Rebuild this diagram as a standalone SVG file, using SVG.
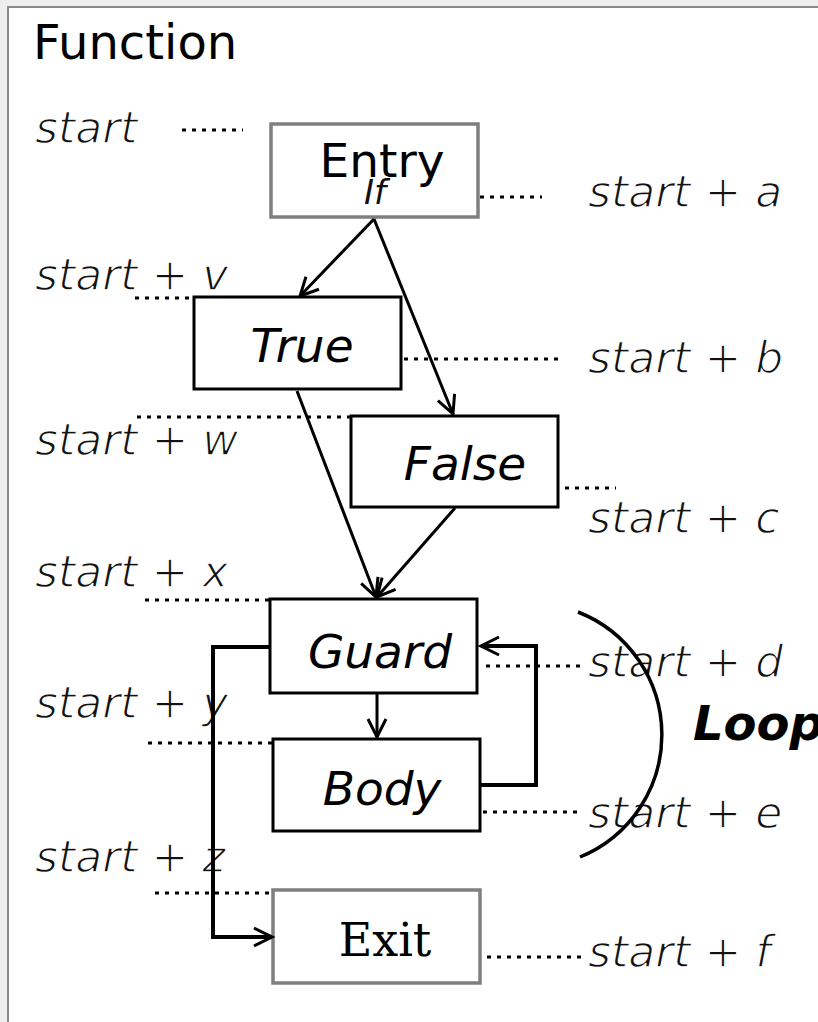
<svg xmlns="http://www.w3.org/2000/svg" width="818" height="1022" viewBox="0 0 818 1022">
<defs>
<style>
.bg{fill:#eeeeee}
.frame{fill:#ffffff;stroke:#8a8a8a;stroke-width:2}
.box{fill:#ffffff;stroke:#000000;stroke-width:3}
.gbox{fill:#ffffff;stroke:#7f7f7f;stroke-width:3.5}
.lbl{font-family:"DejaVu Sans",sans-serif;font-size:47px;fill:#000}
.it{font-style:italic}
.ser{font-family:"DejaVu Serif",serif;font-size:46px;fill:#000}
.tm{font-family:"DejaVu Sans",sans-serif;font-size:44px;font-style:italic;font-weight:200;fill:#111;stroke:#ffffff;stroke-width:1.3}
.title{font-family:"DejaVu Sans",sans-serif;font-size:48px;fill:#000}
.loop{font-family:"DejaVu Sans",sans-serif;font-size:48px;font-style:italic;font-weight:bold;fill:#000}
.edge{fill:none;stroke:#000;stroke-width:3;marker-end:url(#arr)}
.edge4{fill:none;stroke:#000;stroke-width:4;marker-end:url(#arr)}
.dot{fill:none;stroke:#000;stroke-width:3;stroke-dasharray:4 6}
.arc{fill:none;stroke:#000;stroke-width:3.5}
</style>
<marker id="arr" markerUnits="userSpaceOnUse" markerWidth="26" markerHeight="26" viewBox="0 0 26 26" refX="23" refY="13" orient="auto">
<path d="M5,4 L23,13 L5,22" fill="none" stroke="#000" stroke-width="3"/>
</marker>
</defs>
<rect class="bg" x="0" y="0" width="818" height="1022"/>
<rect class="frame" x="8" y="7" width="830" height="1030"/>
<text class="title" x="33" y="59">Function</text>

<g id="leaders">
<line class="dot" x1="182" y1="130" x2="243" y2="130"/>
<line class="dot" x1="480" y1="197" x2="542" y2="197"/>
<line class="dot" x1="135" y1="298" x2="194" y2="298"/>
<line class="dot" x1="404" y1="359" x2="558" y2="359"/>
<line class="dot" x1="137" y1="417" x2="390" y2="417"/>
<line class="dot" x1="565" y1="488" x2="616" y2="488"/>
<line class="dot" x1="145" y1="600" x2="270" y2="600"/>
<line class="dot" x1="486" y1="666" x2="584" y2="666"/>
<line class="dot" x1="148" y1="743" x2="278" y2="743"/>
<line class="dot" x1="483" y1="812" x2="582" y2="812"/>
<line class="dot" x1="155" y1="893" x2="286" y2="893"/>
<line class="dot" x1="487" y1="957" x2="584" y2="957"/>
</g>

<g id="time-labels">
<text class="tm" x="35" y="143">start</text>
<text class="tm" x="35" y="290">start + v</text>
<text class="tm" x="35" y="455">start + w</text>
<text class="tm" x="35" y="587">start + x</text>
<text class="tm" x="35" y="718">start + y</text>
<text class="tm" x="35" y="872">start + z</text>
<text class="tm" x="588" y="207">start + a</text>
<text class="tm" x="588" y="373">start + b</text>
<text class="tm" x="588" y="533">start + c</text>
<text class="tm" x="588" y="677">start + d</text>
<text class="tm" x="588" y="828">start + e</text>
<text class="tm" x="588" y="967">start + f</text>
</g>

<g id="entry">
<rect class="gbox" x="271" y="124" width="207" height="93"/>
<text class="lbl" x="382" y="177" text-anchor="middle">Entry</text>
<text class="tm" x="375" y="204" text-anchor="middle" style="font-size:34px;stroke:none">If</text>
</g>
<g id="true">
<rect class="box" x="194" y="297" width="207" height="92"/>
<text class="lbl it" x="302" y="362" text-anchor="middle">True</text>
</g>
<g id="false">
<rect class="box" x="351" y="416" width="207" height="91"/>
<text class="lbl it" x="465" y="480" text-anchor="middle">False</text>
</g>
<g id="guard">
<rect class="box" x="270" y="599" width="207" height="94"/>
<text class="lbl it" x="380" y="668" text-anchor="middle">Guard</text>
</g>
<g id="body">
<rect class="box" x="273" y="739" width="207" height="92"/>
<text class="lbl it" x="382" y="805" text-anchor="middle">Body</text>
</g>
<g id="exit">
<rect class="gbox" x="273" y="890" width="207" height="93"/>
<text class="ser" x="385" y="956" text-anchor="middle">Exit</text>
</g>

<g id="loop">
<path class="arc" d="M578,612 A132,132 0 0 1 580,857"/>
<text class="loop" x="693" y="740">Loop</text>
</g>

<g id="connectors">
<line class="edge" x1="374" y1="219" x2="300" y2="296"/>
<line class="edge" x1="374" y1="219" x2="453" y2="414"/>
<line class="edge" x1="297" y1="391" x2="376" y2="597"/>
<line class="edge" x1="455" y1="508" x2="377" y2="597"/>
<line class="edge" x1="377" y1="694" x2="377" y2="737"/>
<polyline class="edge4" points="480,785 536,785 536,646 481,646"/>
<polyline class="edge4" points="270,647 213,647 213,937 272,937"/>
</g>
</svg>
